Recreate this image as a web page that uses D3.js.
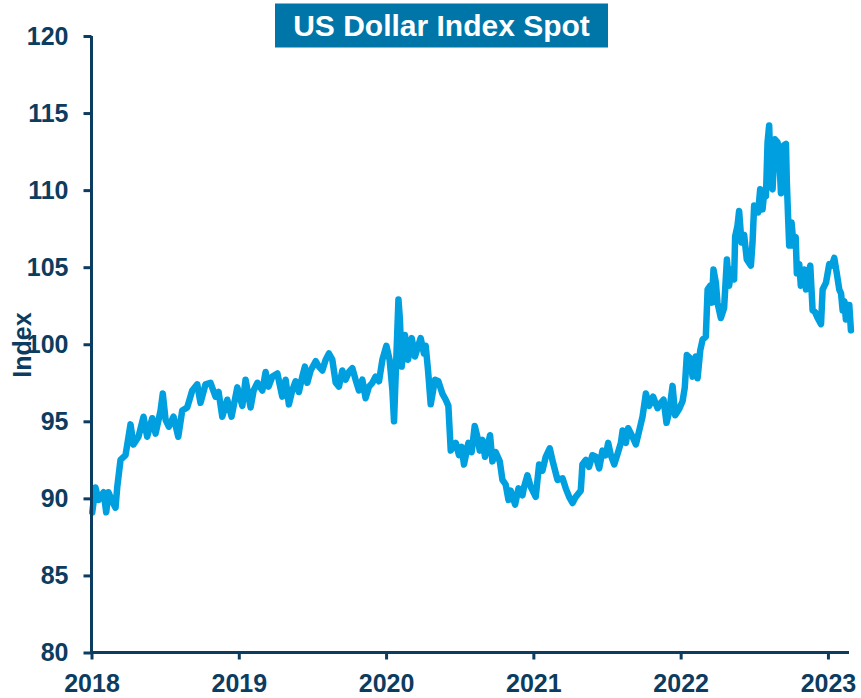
<!DOCTYPE html>
<html>
<head>
<meta charset="utf-8">
<script src="https://cdn.jsdelivr.net/npm/d3@7"></script>
<style>
  html, body { margin: 0; padding: 0; background: #ffffff; }
  svg { display: block; }
  text { font-family: "Liberation Sans", Arial, sans-serif; font-weight: bold; }
</style>
</head>
<body>
<svg id="chart" width="861" height="698"></svg>
<script>
// ---- data (decimal year, index level) ----
const chartTitle = "US Dollar Index Spot";
const yAxisLabel = "Index";
const xTickYears = [2018, 2019, 2020, 2021, 2022, 2023];
const yTickValues = [80, 85, 90, 95, 100, 105, 110, 115, 120];
const dates = [
  2018.005,2018.027,2018.048,2018.082,2018.100,2018.115,2018.141,2018.163,2018.175,2018.197,
  2018.231,2018.265,2018.285,2018.319,2018.353,2018.378,2018.412,2018.435,2018.469,2018.484,
  2018.503,2018.525,2018.557,2018.589,2018.616,2018.650,2018.684,2018.718,2018.740,2018.774,
  2018.808,2018.842,2018.863,2018.888,2018.922,2018.951,2018.990,2019.024,2019.046,2019.080,
  2019.101,2019.126,2019.160,2019.182,2019.202,2019.228,2019.262,2019.295,2019.318,2019.340,
  2019.363,2019.386,2019.408,2019.431,2019.449,2019.465,2019.488,2019.522,2019.544,2019.567,
  2019.590,2019.612,2019.635,2019.658,2019.680,2019.703,2019.725,2019.748,2019.771,2019.793,
  2019.816,2019.839,2019.861,2019.884,2019.907,2019.929,2019.952,2019.975,2020.002,2020.024,
  2020.043,2020.054,2020.065,2020.084,2020.094,2020.106,2020.128,2020.149,2020.174,2020.196,
  2020.235,2020.257,2020.269,2020.285,2020.303,2020.332,2020.355,2020.382,2020.405,2020.423,
  2020.439,2020.473,2020.495,2020.513,2020.529,2020.559,2020.581,2020.602,2020.620,2020.636,
  2020.654,2020.672,2020.688,2020.706,2020.722,2020.744,2020.772,2020.790,2020.812,2020.831,
  2020.846,2020.876,2020.899,2020.926,2020.937,2020.960,2020.982,2021.016,2021.039,2021.062,
  2021.084,2021.111,2021.134,2021.164,2021.198,2021.220,2021.243,2021.266,2021.288,2021.322,
  2021.333,2021.356,2021.378,2021.401,2021.424,2021.447,2021.469,2021.492,2021.508,2021.526,
  2021.549,2021.572,2021.594,2021.606,2021.628,2021.644,2021.673,2021.696,2021.719,2021.741,
  2021.764,2021.786,2021.813,2021.843,2021.865,2021.884,2021.904,2021.922,2021.945,2021.963,
  2021.990,2022.013,2022.028,2022.042,2022.064,2022.081,2022.103,2022.115,2022.133,2022.149,
  2022.171,2022.183,2022.200,2022.212,2022.223,2022.239,2022.250,2022.273,2022.295,2022.314,
  2022.329,2022.345,2022.363,2022.370,2022.386,2022.397,2022.413,2022.431,2022.449,2022.477,
  2022.488,2022.499,2022.517,2022.526,2022.540,2022.556,2022.567,2022.579,2022.590,2022.601,
  2022.613,2022.624,2022.640,2022.658,2022.669,2022.681,2022.699,2022.715,2022.721,2022.730,
  2022.737,2022.753,2022.767,2022.781,2022.789,2022.805,2022.816,2022.839,2022.851,2022.862,
  2022.880,2022.896,2022.912,2022.930,2022.953,2022.964,2022.987,2023.009,2023.026,2023.043,
  2023.060,2023.077,2023.089,2023.100,2023.111,2023.122,2023.134,2023.145,2023.156
];
const values = [
  89.1,90.7,89.9,90.4,89.1,90.4,89.8,89.4,90.75,92.5,
  92.8,94.8,93.5,94.0,95.3,94.0,95.2,94.2,95.7,96.8,
  95.1,94.65,95.3,94.0,95.7,95.9,97.0,97.4,96.2,97.4,
  97.5,96.6,96.9,95.3,96.4,95.3,97.2,96.0,97.7,95.9,
  97.0,97.5,97.0,98.2,97.25,97.9,98.1,96.6,97.7,96.1,
  97.0,97.6,96.9,97.9,98.55,97.5,98.3,98.9,98.55,98.3,
  99.0,99.4,99.0,97.5,97.25,98.3,97.7,98.2,98.45,97.7,
  97.0,97.7,96.5,97.25,97.5,97.9,97.6,99.0,99.9,99.0,
  97.0,95.0,97.9,102.9,101.6,98.55,100.6,99.0,100.4,99.2,
  100.4,99.4,99.9,98.3,96.1,97.7,97.6,96.8,96.4,96.0,
  93.1,93.6,92.8,93.35,92.2,93.6,93.0,94.7,94.0,93.1,
  93.8,92.7,93.35,94.1,92.4,93.0,92.4,91.2,90.9,89.9,
  90.5,89.6,90.65,90.2,90.75,91.5,90.75,90.1,92.2,91.8,
  92.7,93.25,92.3,91.2,91.3,90.65,90.1,89.7,90.1,90.5,
  92.2,92.5,92.05,92.8,92.7,91.95,93.1,92.8,93.6,92.8,
  92.2,92.9,93.6,94.4,93.6,94.55,94.0,93.5,94.4,95.3,
  96.8,96.0,96.6,95.85,96.2,96.4,94.9,95.6,97.3,95.4,
  95.8,96.3,97.2,99.3,99.1,97.9,99.2,97.8,99.6,100.3,
  100.5,103.55,103.8,102.7,104.85,104.0,102.7,101.7,102.35,105.5,
  103.8,104.85,104.2,107.0,107.7,108.65,106.6,107.1,105.5,105.1,
  106.6,109.0,108.75,108.55,110.05,108.75,109.8,109.6,113.1,114.2,
  110.3,110.05,113.3,113.1,112.2,109.8,112.9,113.0,110.5,108.1,
  106.4,107.9,106.4,106.95,104.6,105.2,103.8,104.85,103.55,104.3,
  105.1,102.2,102.1,101.7,101.3,103.55,104.0,105.2,105.1,105.6,
  104.6,103.55,103.3,102.2,102.8,101.6,102.55,102.55,100.9
];

// ---- styles ----
const navy = "#0c3c60";
const lineColor = "#009fdf";
const titleBg = "#0075a8";

const svg = d3.select("#chart");

const x = d3.scaleLinear().domain([2018, 2023.143]).range([91.5, 849]);
const y = d3.scaleLinear().domain([80, 120]).range([652.5, 36]);

const data = dates.map((d, i) => ({ t: d, v: values[i] }));

// line
svg.append("path")
  .datum(data)
  .attr("fill", "none")
  .attr("stroke", lineColor)
  .attr("stroke-width", 6.5)
  .attr("stroke-linejoin", "round")
  .attr("stroke-linecap", "round")
  .attr("d", d3.line().x(d => x(d.t)).y(d => y(d.v)));

// y axis
const yAxis = svg.append("g")
  .attr("transform", `translate(${x(2018)},0)`)
  .call(d3.axisLeft(y).tickValues(yTickValues).tickSize(8).tickPadding(15).tickFormat(d3.format("d")));
yAxis.select(".domain").attr("stroke", navy).attr("stroke-width", 3).attr("d", `M0,${y(80)}V${y(120)}`);
yAxis.selectAll(".tick line").attr("stroke", navy).attr("stroke-width", 3);
yAxis.selectAll(".tick text").attr("fill", navy).style("font-size", "25px").style("font-weight", "bold")
  .style("font-family", '"Liberation Sans", Arial, sans-serif');

// x axis
const xAxis = svg.append("g")
  .attr("transform", `translate(0,${y(80)})`)
  .call(d3.axisBottom(x).tickValues(xTickYears).tickSize(7).tickPadding(15).tickFormat(d3.format("d")));
xAxis.select(".domain").attr("stroke", navy).attr("stroke-width", 3).attr("d", `M${x(2018) - 1.5},0H${x.range()[1]}`);
xAxis.selectAll(".tick line").attr("stroke", navy).attr("stroke-width", 3);
xAxis.selectAll(".tick text").attr("fill", navy).style("font-size", "25px").style("font-weight", "bold")
  .style("font-family", '"Liberation Sans", Arial, sans-serif');

// y axis title
svg.append("text")
  .attr("transform", "translate(31,345) rotate(-90)")
  .attr("text-anchor", "middle")
  .attr("fill", navy)
  .style("font-size", "25px")
  .text(yAxisLabel);

// title box
svg.append("rect")
  .attr("x", 275).attr("y", 3.5).attr("width", 333).attr("height", 44)
  .attr("fill", titleBg);
svg.append("text")
  .attr("x", 441.5).attr("y", 36)
  .attr("text-anchor", "middle")
  .attr("fill", "#ffffff")
  .style("font-size", "30px")
  .text(chartTitle);
</script>
</body>
</html>
